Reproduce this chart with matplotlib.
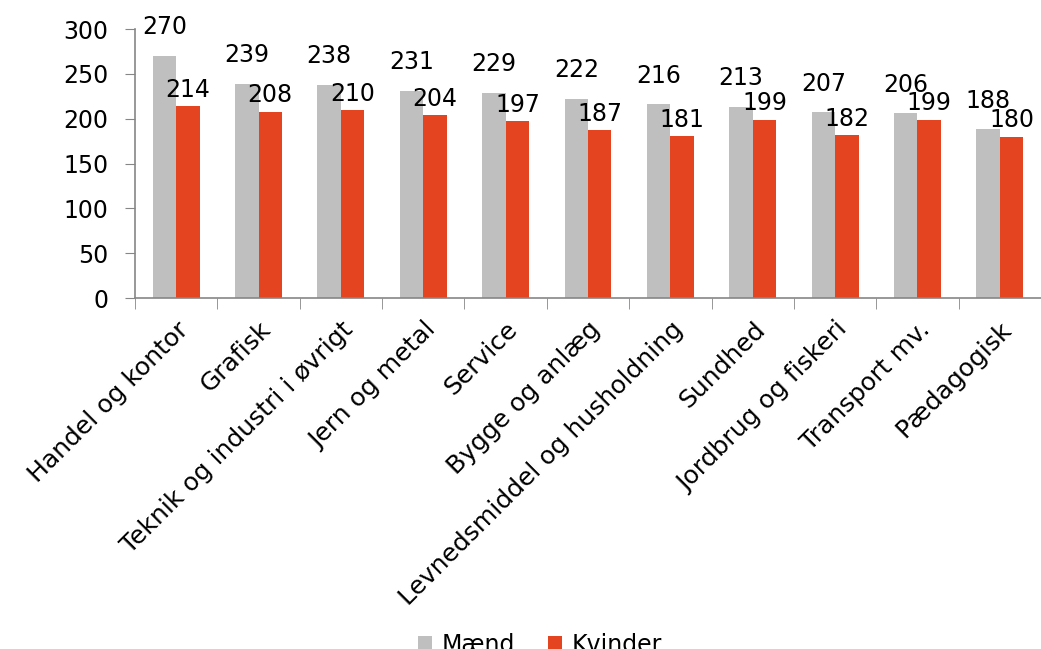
import numpy as np
import matplotlib.pyplot as plt

categories = ['Handel og kontor', 'Grafisk', 'Teknik og industri i øvrigt', 'Jern og metal',
              'Service', 'Bygge og anlæg', 'Levnedsmiddel og husholdning', 'Sundhed',
              'Jordbrug og fiskeri', 'Transport mv.', 'Pædagogisk']
maend = [270, 239, 238, 231, 229, 222, 216, 213, 207, 206, 188]
kvinder = [214, 208, 210, 204, 197, 187, 181, 199, 182, 199, 180]

plt.rcParams['font.family'] = ['DejaVu Sans']

fig = plt.figure(figsize=(10.41, 6.49), dpi=100)
ax = fig.add_axes([0.1297, 0.5408, 0.8703, 0.4145])

x = np.arange(len(categories))
w = 0.285
gray = '#BFBFBF'
red = '#E44420'
b1 = ax.bar(x - w / 2, maend, w, color=gray, label='Mænd')
b2 = ax.bar(x + w / 2, kvinder, w, color=red, label='Kvinder')

ax.bar_label(b1, padding=12, fontsize=17)
ax.bar_label(b2, padding=3, fontsize=17)

ax.set_xlim(-0.5, len(categories) - 0.5)
ax.set_ylim(0, 300)
ax.set_yticks(range(0, 301, 50))
ax.tick_params(axis='y', labelsize=17, length=7, color='#868686', pad=12)

ax.set_xticks(x)
ax.set_xticklabels(categories, rotation=45, ha='right', va='top',
                   rotation_mode='anchor', fontsize=18)
ax.tick_params(axis='x', which='major', length=0, pad=14)
ax.set_xticks(np.arange(len(categories) + 1) - 0.5, minor=True)
ax.tick_params(axis='x', which='minor', length=8, color='#868686')

for s in ['top', 'right']:
    ax.spines[s].set_visible(False)
for s in ['left', 'bottom']:
    ax.spines[s].set_color('#868686')
    ax.spines[s].set_linewidth(1.2)

fig.legend(handles=[b1, b2], loc='center', bbox_to_anchor=(540 / 1041, 1 - 645 / 649),
           ncol=2, frameon=False, fontsize=17, handlelength=0.6, handleheight=0.6,
           handletextpad=0.4, columnspacing=1.4)

fig.savefig('out.png', dpi=100)
